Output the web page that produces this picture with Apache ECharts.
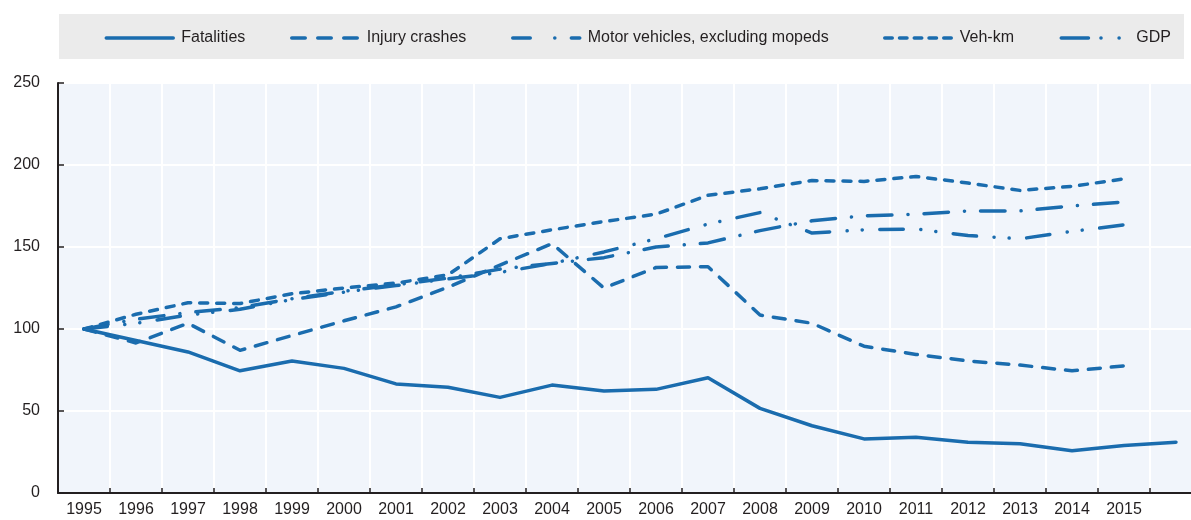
<!DOCTYPE html>
<html>
<head>
<meta charset="utf-8">
<script src="https://cdn.jsdelivr.net/npm/echarts@6/dist/echarts.min.js"></script>
<style>
  html, body { margin: 0; padding: 0; background: #ffffff; }
  #chart { width: 1191px; height: 520px; }
</style>
</head>
<body>
<div id="chart"></div>
<script>
// Index, 1995 = 100
const years = ['1995', '1996', '1997', '1998', '1999', '2000', '2001', '2002', '2003', '2004', '2005',
  '2006', '2007', '2008', '2009', '2010', '2011', '2012', '2013', '2014', '2015', '2016'];

const fatalities = [100, 93, 86, 74.5, 80.5, 76, 66.5, 64.5, 58.3, 65.8, 62.2,
  63.2, 70.3, 51.6, 41, 33, 34, 31, 30, 25.8, 29, 31];
const injuryCrashes = [100, 91.5, 103.5, 87, 96, 105, 113.5, 125.5, 139, 152, 125,
  137.5, 138, 108.5, 103.5, 89.5, 84.5, 80.5, 78, 74.5, 77.5];
const motorVehicles = [100, 106, 110, 113, 118.5, 123, 127, 131, 136.5, 140, 143.5,
  150, 152.5, 160, 166, 169, 170, 172, 172, 175, 177.5];
const vehKm = [100, 109, 116, 115.5, 121.5, 125, 128, 133, 155, 160.5, 165.5,
  170, 181.5, 185.5, 190.5, 190, 193, 189, 184.5, 187, 191.5];
const gdp = [100, 103.5, 108.5, 112, 118, 122.5, 126.5, 130.5, 134.5, 140, 147,
  155, 164, 171, 158.5, 160.5, 161, 157, 155, 159.5, 163.5];

const yTicks = { min: 0, max: 250, step: 50 };

const BLUE = '#1a6cae';
const INK = '#231f20';
const FONT = '"Liberation Sans", Arial, Helvetica, sans-serif';

// dash patterns for the plotted lines and their legend keys (round caps add the line width to each dash)
const seriesDefs = [
  { name: 'Fatalities', data: fatalities, dash: 'solid', legendDash: 'solid', legendLeft: 104.5 },
  { name: 'Injury crashes', data: injuryCrashes, dash: [12, 11], legendDash: [13.5, 12.5], legendLeft: 290 },
  { name: 'Motor vehicles, excluding mopeds', data: motorVehicles, dash: [24.5, 16, 0.1, 16], legendDash: [17.5, 24.5, 0.1, 16.5, 40], legendLeft: 511 },
  { name: 'Veh-km', data: vehKm, dash: [8, 9], legendDash: [7.5, 7.25], legendLeft: 883 },
  { name: 'GDP', data: gdp, dash: [23.5, 17.5, 0.1, 15, 0.1, 17.5], legendDash: [27.2, 12.5, 0.1, 18, 0.1, 40], legendLeft: 1059.5 }
];

const chart = echarts.init(document.getElementById('chart'), null, { renderer: 'canvas' });

const option = {
  animation: false,
  backgroundColor: '#ffffff',
  graphic: [{
    type: 'rect',
    left: 59, top: 14,
    shape: { width: 1125, height: 45 },
    style: { fill: '#ebebeb' },
    z: -10
  }],
  legend: seriesDefs.map(s => ({
    data: [{ name: s.name, lineStyle: { type: s.legendDash } }],
    left: s.legendLeft,
    top: 30,
    padding: 0,
    itemWidth: 67,
    itemHeight: 14,
    selectedMode: false,
    itemStyle: { opacity: 0, borderWidth: 0 },
    lineStyle: { width: 3.5, cap: 'round', color: BLUE },
    textStyle: { fontFamily: FONT, fontSize: 16, color: INK, padding: [0, 0, 0, 3] }
  })),
  // the last band (2016) runs past the right edge of the canvas
  grid: {
    left: 58, top: 83, width: 1144, height: 410,
    outerBoundsMode: 'none',
    containLabel: false,
    show: true, backgroundColor: '#f1f5fb', borderWidth: 0
  },
  xAxis: {
    type: 'category',
    data: years,
    boundaryGap: true,
    axisLine: { lineStyle: { color: INK, width: 2 } },
    axisTick: { show: true, inside: true, length: 5, interval: 0, lineStyle: { color: INK, width: 1.5 } },
    axisLabel: {
      interval: 0, margin: 9, fontFamily: FONT, fontSize: 16, color: INK,
      formatter: v => (v === years[years.length - 1] ? '' : v)
    },
    splitLine: { show: true, interval: 0, lineStyle: { color: '#ffffff', width: 2 } }
  },
  yAxis: {
    type: 'value',
    min: yTicks.min, max: yTicks.max, interval: yTicks.step,
    axisLine: { show: true, lineStyle: { color: INK, width: 2 } },
    axisTick: { show: true, inside: true, length: 6, lineStyle: { color: INK, width: 1.5 } },
    axisLabel: { margin: 18, fontFamily: FONT, fontSize: 16, color: INK },
    splitLine: { show: true, lineStyle: { color: '#ffffff', width: 2 } }
  },
  series: seriesDefs.map(s => ({
    name: s.name,
    type: 'line',
    data: s.data,
    symbol: 'none',
    showSymbol: false,
    silent: true,
    color: BLUE,
    lineStyle: { color: BLUE, width: 3.5, type: s.dash, cap: 'round', join: 'round' }
  }))
};

chart.setOption(option);
</script>
</body>
</html>
